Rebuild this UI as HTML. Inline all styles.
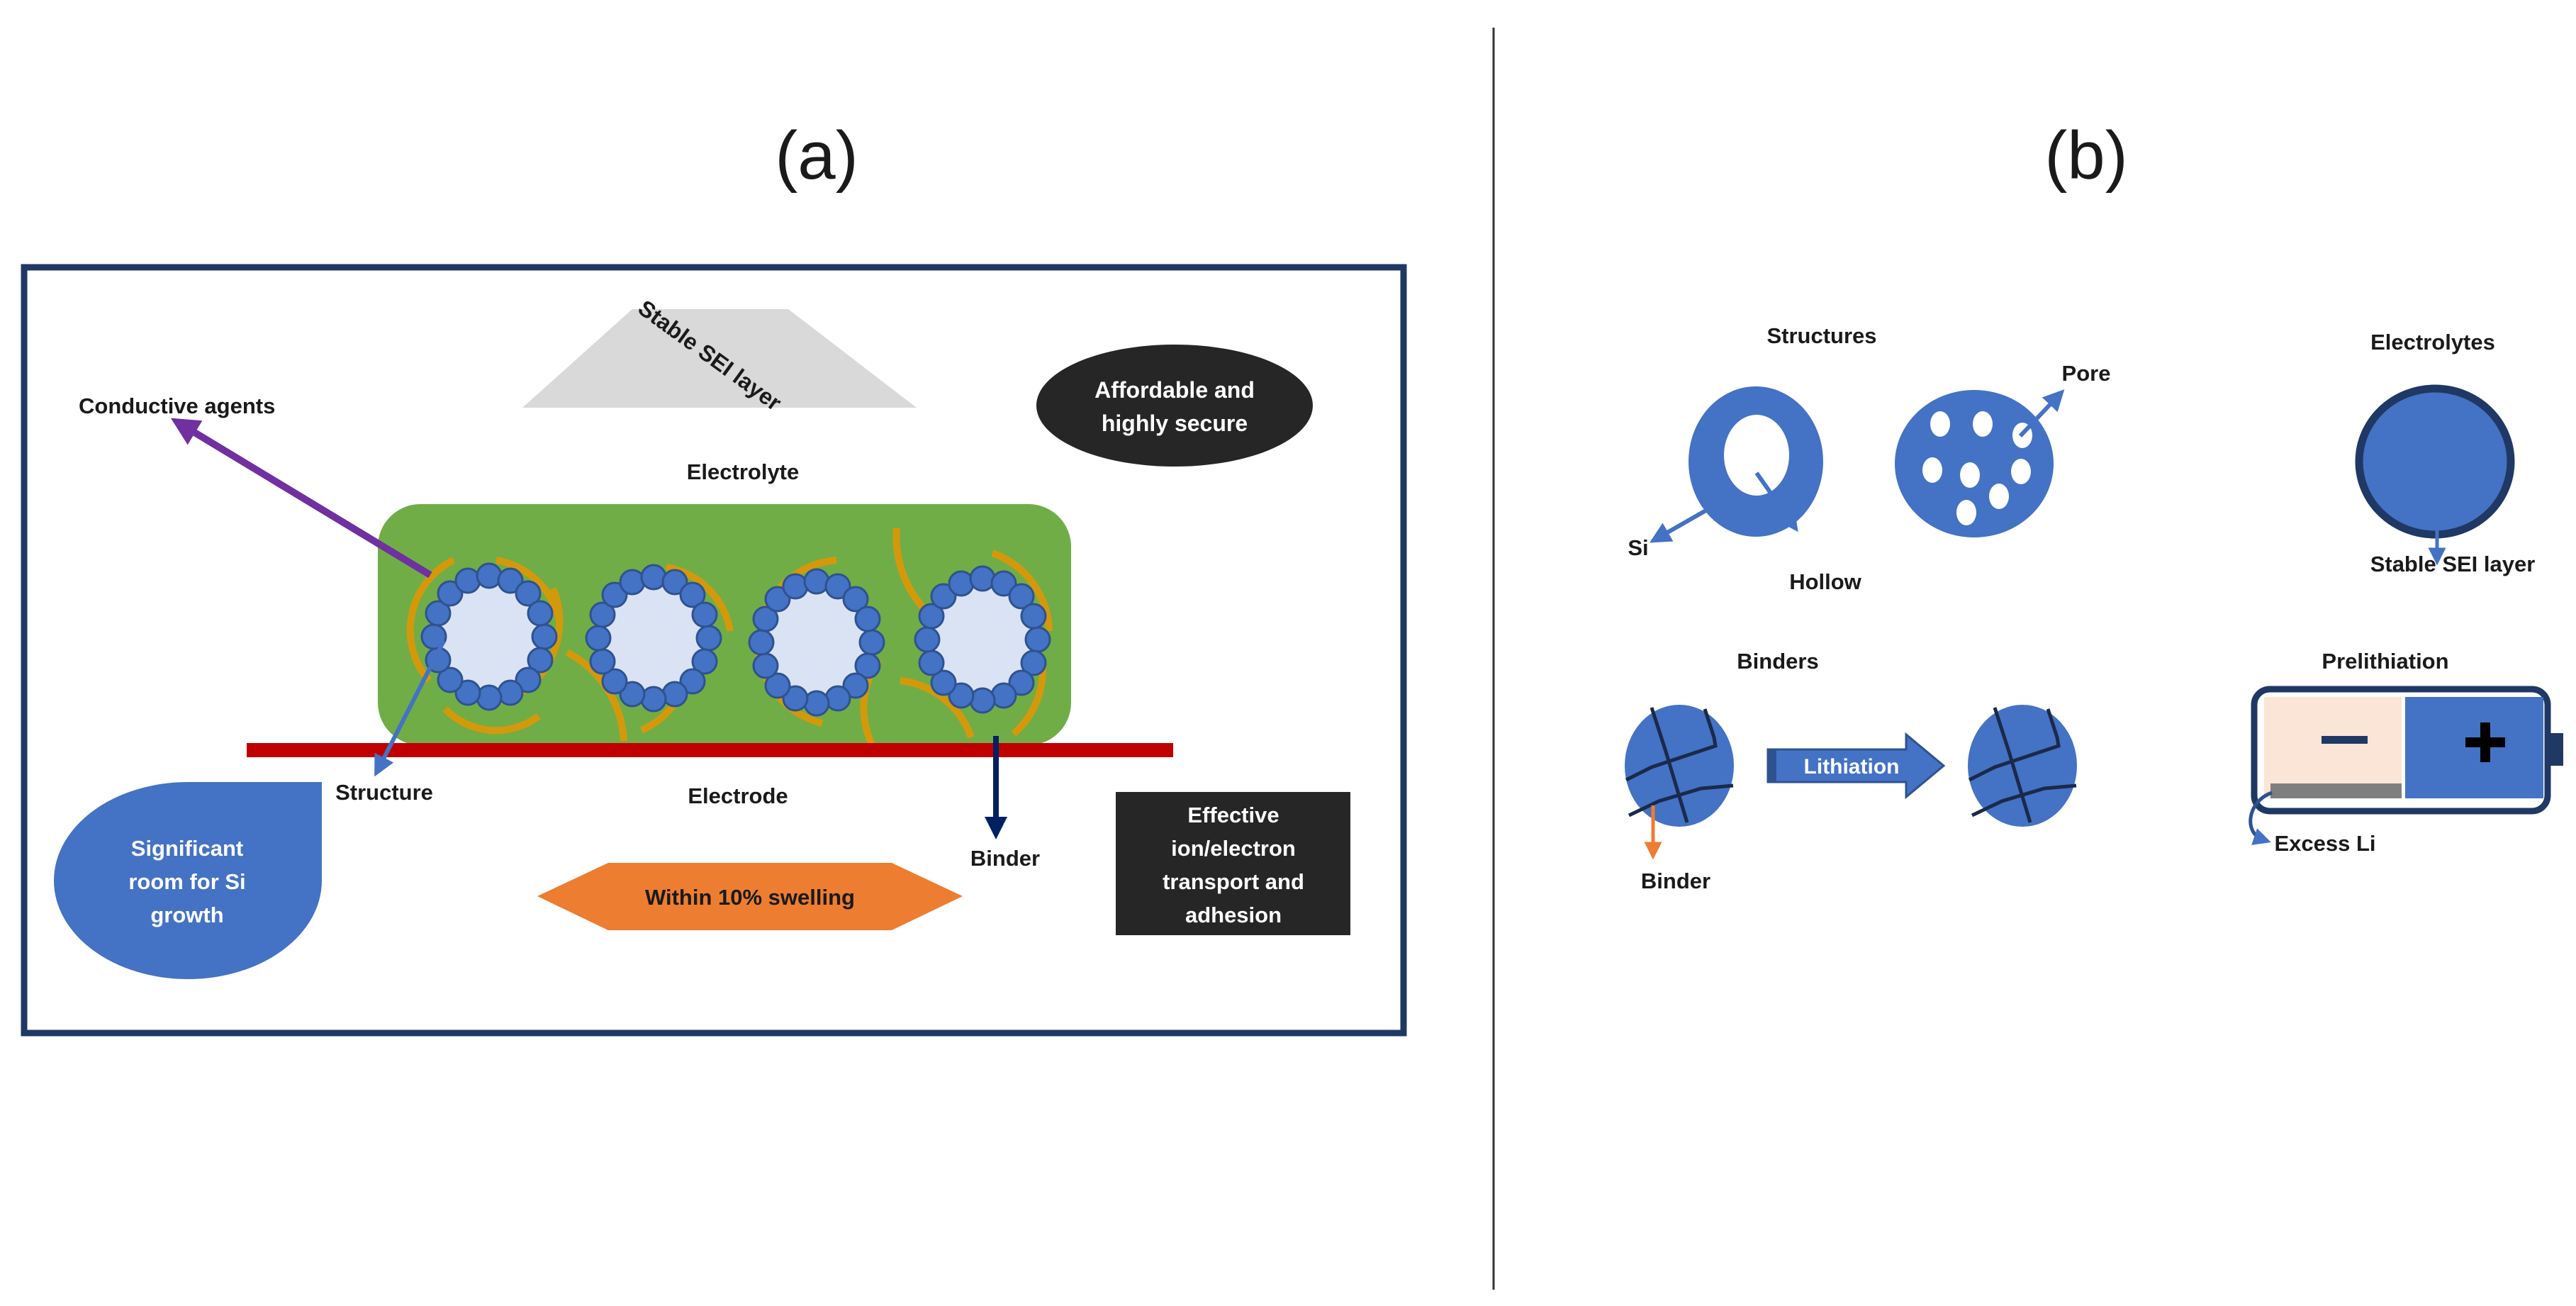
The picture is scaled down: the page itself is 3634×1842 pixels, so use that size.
<!DOCTYPE html>
<html><head><meta charset="utf-8"><style>
html,body{margin:0;padding:0;background:#fff}
svg{display:block}
text{font-family:"Liberation Sans",sans-serif;font-weight:bold;fill:#1a1a1a}
</style></head><body>
<svg width="3634" height="1842" viewBox="0 0 3634 1842" xmlns="http://www.w3.org/2000/svg">
<defs>
<g id="p">
<ellipse cx="0" cy="0" rx="74" ry="80" fill="#dae3f3"/>
<g fill="#4472c4" stroke="#2f528f" stroke-width="3">
<circle cx="78" cy="0" r="17"/><circle cx="72" cy="33" r="17"/><circle cx="55" cy="61" r="17"/><circle cx="30" cy="79" r="17"/>
<circle cx="0" cy="86" r="17"/><circle cx="-30" cy="79" r="17"/><circle cx="-55" cy="61" r="17"/><circle cx="-72" cy="33" r="17"/>
<circle cx="-78" cy="0" r="17"/><circle cx="-72" cy="-33" r="17"/><circle cx="-55" cy="-61" r="17"/><circle cx="-30" cy="-79" r="17"/>
<circle cx="0" cy="-86" r="17"/><circle cx="30" cy="-79" r="17"/><circle cx="55" cy="-61" r="17"/><circle cx="72" cy="-33" r="17"/>
</g>
</g>
<marker id="ah" markerWidth="6" markerHeight="6" refX="3" refY="3" orient="auto" markerUnits="strokeWidth"><path d="M0,0 L6,3 L0,6 z" fill="context-stroke"/></marker>
<marker id="ahp" markerWidth="4" markerHeight="4" refX="2" refY="2" orient="auto" markerUnits="strokeWidth"><path d="M0,0 L4,2 L0,4 z" fill="#7030a0"/></marker>
<marker id="ahb" markerWidth="5" markerHeight="5" refX="2.5" refY="2.5" orient="auto" markerUnits="strokeWidth"><path d="M0,0 L5,2.5 L0,5 z" fill="#4472c4"/></marker>
<marker id="ahn" markerWidth="4" markerHeight="4" refX="2" refY="2" orient="auto" markerUnits="strokeWidth"><path d="M0,0 L4,2 L0,4 z" fill="#002060"/></marker>
<marker id="aho" markerWidth="5" markerHeight="5" refX="2.5" refY="2.5" orient="auto" markerUnits="strokeWidth"><path d="M0,0 L5,2.5 L0,5 z" fill="#ed7d31"/></marker>
</defs>

<!-- divider -->
<line x1="2107" y1="39" x2="2107" y2="1819" stroke="#333" stroke-width="3"/>
<text x="1152" y="252" font-size="96" text-anchor="middle" style="font-weight:normal">(a)</text>
<text x="2943" y="252" font-size="96" text-anchor="middle" style="font-weight:normal">(b)</text>

<!-- frame -->
<rect x="34" y="377" width="1946" height="1080" fill="none" stroke="#1f3864" stroke-width="9"/>

<!-- SEI trapezoid -->
<polygon points="892,436 1112,436 1293,575 737,575" fill="#d9d9d9"/>
<text x="0" y="0" font-size="32" text-anchor="middle" transform="translate(995,510) rotate(36)">Stable SEI layer</text>

<!-- black ellipse -->
<ellipse cx="1657" cy="572" rx="195" ry="86" fill="#262626"/>
<text x="1657" y="561" font-size="32" text-anchor="middle" style="fill:#fff">Affordable and</text>
<text x="1657" y="608" font-size="32" text-anchor="middle" style="fill:#fff">highly secure</text>

<text x="111" y="583" font-size="31">Conductive agents</text>
<text x="1048" y="676" font-size="31" text-anchor="middle">Electrolyte</text>

<!-- green -->
<rect x="533" y="711" width="978" height="340" rx="60" fill="#70ad47"/>

<!-- orange arcs -->
<g fill="none" stroke="#d4990a" stroke-width="10" stroke-linecap="butt">
<path d="M640,790 A110,110 0 0 0 605,960"/>
<path d="M700,790 A110,110 0 0 1 790,880"/>
<path d="M780,830 A120,120 0 0 1 730,980"/>
<path d="M628,1000 A100,100 0 0 0 760,1010"/>
<path d="M940,800 A110,110 0 0 1 1030,890"/>
<path d="M975,930 A120,120 0 0 1 905,1030"/>
<path d="M800,920 A150,150 0 0 1 880,1045"/>
<path d="M1080,860 A120,120 0 0 1 1180,790"/>
<path d="M1070,920 A120,120 0 0 0 1160,1020"/>
<path d="M1240,930 A120,120 0 0 0 1230,1050"/>
<path d="M1265,745 A150,150 0 0 0 1310,865"/>
<path d="M1400,780 A120,120 0 0 1 1480,890"/>
<path d="M1270,960 A120,120 0 0 1 1370,1040"/>
<path d="M1470,930 A120,120 0 0 1 1430,1035"/>
</g>
<use href="#p" x="690" y="898"/>
<use href="#p" x="922" y="900"/>
<use href="#p" x="1152" y="906"/>
<use href="#p" x="1386" y="902"/>

<!-- red electrode -->
<rect x="348" y="1048" width="1307" height="20" fill="#c00000"/>

<!-- arrows -->
<line x1="607" y1="811" x2="258" y2="600" stroke="#7030a0" stroke-width="10" marker-end="url(#ahp)"/>
<line x1="626" y1="904" x2="535" y2="1082" stroke="#4472c4" stroke-width="6" marker-end="url(#ahb)"/>
<line x1="1405" y1="1038" x2="1405" y2="1168" stroke="#002060" stroke-width="8" marker-end="url(#ahn)"/>

<text x="542" y="1128" font-size="31" text-anchor="middle">Structure</text>
<text x="1041" y="1133" font-size="31" text-anchor="middle">Electrode</text>
<text x="1418" y="1221" font-size="31" text-anchor="middle">Binder</text>

<!-- teardrop -->
<path d="M454,1103 L454,1242 A189,139 0 1 1 265,1103 Z" fill="#4472c4"/>
<text x="264" y="1207" font-size="31" text-anchor="middle" style="fill:#fff">Significant</text>
<text x="264" y="1254" font-size="31" text-anchor="middle" style="fill:#fff">room for Si</text>
<text x="264" y="1301" font-size="31" text-anchor="middle" style="fill:#fff">growth</text>

<!-- hexagon -->
<polygon points="758,1264 858,1217 1258,1217 1358,1264 1258,1312 858,1312" fill="#ed7d31"/>
<text x="1058" y="1276" font-size="31" text-anchor="middle">Within 10% swelling</text>

<!-- black rect -->
<rect x="1574" y="1117" width="331" height="202" fill="#262626"/>
<text x="1740" y="1160" font-size="31" text-anchor="middle" style="fill:#fff">Effective</text>
<text x="1740" y="1207" font-size="31" text-anchor="middle" style="fill:#fff">ion/electron</text>
<text x="1740" y="1254" font-size="31" text-anchor="middle" style="fill:#fff">transport and</text>
<text x="1740" y="1301" font-size="31" text-anchor="middle" style="fill:#fff">adhesion</text>

<!-- (b) panel -->
<text x="2570" y="484" font-size="31" text-anchor="middle">Structures</text>
<path fill-rule="evenodd" fill="#4472c4" d="M2382,651 a95,106 0 1 0 190,0 a95,106 0 1 0 -190,0 Z M2432,642 a46,57 0 1 0 92,0 a46,57 0 1 0 -92,0 Z"/>
<line x1="2410" y1="718" x2="2340" y2="758" stroke="#4472c4" stroke-width="6" marker-end="url(#ahb)"/>
<line x1="2478" y1="667" x2="2528" y2="738" stroke="#4472c4" stroke-width="6" marker-end="url(#ahb)"/>
<text x="2311" y="783" font-size="31" text-anchor="middle">Si</text>
<text x="2575" y="831" font-size="31" text-anchor="middle">Hollow</text>

<ellipse cx="2785" cy="654" rx="112" ry="104" fill="#4472c4"/>
<g fill="#fff">
<ellipse cx="2737" cy="598" rx="14" ry="18"/><ellipse cx="2797" cy="598" rx="14" ry="18"/><ellipse cx="2853" cy="614" rx="14" ry="18"/>
<ellipse cx="2726" cy="663" rx="14" ry="18"/><ellipse cx="2779" cy="670" rx="14" ry="18"/><ellipse cx="2851" cy="665" rx="14" ry="18"/>
<ellipse cx="2820" cy="700" rx="14" ry="18"/><ellipse cx="2774" cy="723" rx="14" ry="18"/>
</g>
<line x1="2850" y1="615" x2="2902" y2="560" stroke="#4472c4" stroke-width="6" marker-end="url(#ahb)"/>
<text x="2943" y="537" font-size="31" text-anchor="middle">Pore</text>

<text x="3432" y="493" font-size="31" text-anchor="middle">Electrolytes</text>
<ellipse cx="3435" cy="651" rx="107" ry="103" fill="#4472c4" stroke="#1f3864" stroke-width="11"/>
<line x1="3438" y1="745" x2="3438" y2="785" stroke="#4472c4" stroke-width="5" marker-end="url(#ahb)"/>
<text x="3460" y="806" font-size="31" text-anchor="middle">Stable SEI layer</text>

<text x="2508" y="943" font-size="31" text-anchor="middle">Binders</text>
<g id="bc">
<ellipse cx="2369" cy="1080" rx="77" ry="86" fill="#4472c4"/>
<g fill="none" stroke="#1a2a4a" stroke-width="5">
<path d="M2330,998 L2350,1060 L2380,1160"/>
<path d="M2405,1000 L2418,1040 L2420,1052 L2390,1062 L2330,1082 L2294,1100"/>
<path d="M2298,1150 L2340,1130 L2400,1112 L2445,1108"/>
</g>
</g>
<use href="#bc" x="484" y="0"/>
<line x1="2332" y1="1136" x2="2332" y2="1200" stroke="#ed7d31" stroke-width="5" marker-end="url(#aho)"/>
<text x="2364" y="1253" font-size="31" text-anchor="middle">Binder</text>
<polygon points="2494,1057 2689,1057 2689,1036 2742,1080 2689,1124 2689,1103 2494,1103" fill="#4472c4" stroke="#2f528f" stroke-width="3"/>
<rect x="2494" y="1057" width="12" height="46" fill="#2f528f"/>
<text x="2612" y="1091" font-size="30" text-anchor="middle" style="fill:#fff">Lithiation</text>

<text x="3365" y="943" font-size="31" text-anchor="middle">Prelithiation</text>
<rect x="3180" y="972" width="414" height="172" rx="22" fill="#fff" stroke="#1f3864" stroke-width="9"/>
<rect x="3194" y="983" width="194" height="143" fill="#fbe5d6"/>
<rect x="3203" y="1105" width="185" height="21" fill="#7f7f7f"/>
<rect x="3393" y="983" width="195" height="143" fill="#4472c4"/>
<rect x="3598" y="1034" width="18" height="46" fill="#203864"/>
<rect x="3275" y="1038" width="65" height="11" fill="#1f3864"/>
<rect x="3478" y="1040" width="56" height="14" fill="#000"/>
<rect x="3499" y="1019" width="14" height="56" fill="#000"/>
<path d="M3205,1118 C3170,1130 3165,1175 3192,1184" fill="none" stroke="#2f528f" stroke-width="5" marker-end="url(#ahb)"/>
<text x="3280" y="1200" font-size="31" text-anchor="middle">Excess Li</text>
</svg>
</body></html>
